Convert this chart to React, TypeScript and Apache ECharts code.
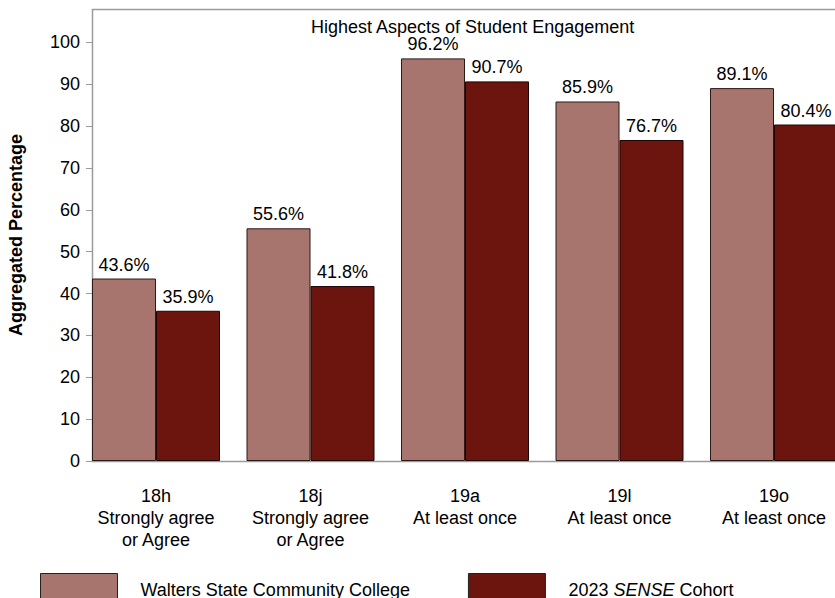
import React, { useEffect, useRef } from "react";
import * as echarts from "echarts";

const categories = [
  "18h\nStrongly agree\nor Agree",
  "18j\nStrongly agree\nor Agree",
  "19a\nAt least once",
  "19l\nAt least once",
  "19o\nAt least once",
];
const collegeValues = [43.6, 55.6, 96.2, 85.9, 89.1];
const cohortValues = [35.9, 41.8, 90.7, 76.7, 80.4];
const yTicks = [0, 10, 20, 30, 40, 50, 60, 70, 80, 90, 100];
const seriesNames = ["Walters State Community College", "2023 SENSE Cohort"];

const FONT = "Arial, 'Liberation Sans', Helvetica, sans-serif";

export default function App() {
  const ref = useRef<HTMLDivElement>(null);
  useEffect(() => {
    if (!ref.current) return;
    const chart = echarts.init(ref.current, undefined, { renderer: "svg" });
    const gridLeft = 78.75;
    const gridTop = 9;
    const gridBottom = 137;
    const axisX = 92;
    chart.setOption({
      animation: false,
      backgroundColor: "#ffffff",
      textStyle: { fontFamily: FONT },
      title: {
        text: "Highest Aspects of Student Engagement",
        left: 311,
        top: 18,
        padding: 0,
        z: 20,
        backgroundColor: "#ffffff",
        textStyle: { fontFamily: FONT, fontSize: 18, fontWeight: "normal", color: "#000" },
      },
      grid: {
        left: gridLeft,
        top: gridTop,
        width: 772.5,
        bottom: gridBottom,
        outerBoundsMode: "none",
        containLabel: false,
      },
      legend: {
        left: 40,
        top: 573,
        padding: 0,
        itemWidth: 77,
        itemHeight: 32,
        itemGap: 58,
        icon: "rect",
        itemStyle: { borderColor: "#222", borderWidth: 1 },
        textStyle: {
          fontFamily: FONT,
          fontSize: 18,
          color: "#000",
          padding: [0, 0, 0, 18],
          rich: {
            n: { fontFamily: FONT, fontSize: 18, color: "#000" },
            i: { fontFamily: FONT, fontSize: 18, color: "#000", fontStyle: "italic" },
          },
        },
        formatter: (name: string) =>
          name === seriesNames[1] ? "{n|2023 }{i|SENSE}{n| Cohort}" : name,
        data: seriesNames,
      },
      xAxis: {
        type: "category",
        data: categories,
        axisLine: { show: false },
        axisTick: { show: false },
        axisLabel: {
          margin: 24,
          fontFamily: FONT,
          fontSize: 18,
          lineHeight: 22,
          color: "#000",
          interval: 0,
        },
      },
      yAxis: {
        type: "value",
        min: 0,
        max: 108,
        interval: 10,
        offset: -(axisX - gridLeft),
        name: "Aggregated Percentage",
        nameLocation: "middle",
        nameRotate: 90,
        nameGap: 67,
        nameTextStyle: { fontFamily: FONT, fontSize: 18, fontWeight: "bold", color: "#000" },
        axisLine: { show: false },
        axisTick: {
          show: true,
          length: 6,
          lineStyle: { color: "#9a9a9a" },
          customValues: yTicks,
        },
        axisLabel: {
          margin: 12,
          fontFamily: FONT,
          fontSize: 18,
          color: "#000",
          customValues: yTicks,
        },
        splitLine: { show: false },
      },
      graphic: [
        {
          type: "rect",
          z: 0,
          silent: true,
          shape: { x: axisX + 0.5, y: gridTop + 0.5, width: 800, height: 598 - gridBottom - gridTop },
          style: { fill: "none", stroke: "#9a9a9a", lineWidth: 1.5 },
        },
      ],
      series: [
        {
          name: seriesNames[0],
          type: "bar",
          data: collegeValues,
          barWidth: 64,
          barGap: "0%",
          itemStyle: { color: "#A8756E", borderColor: "#2a1a18", borderWidth: 1 },
          label: {
            show: true,
            position: "top",
            distance: 5,
            formatter: (p: any) => p.value.toFixed(1) + "%",
            fontFamily: FONT,
            fontSize: 18,
            color: "#000",
          },
          z: 3,
        },
        {
          name: seriesNames[1],
          type: "bar",
          data: cohortValues,
          barWidth: 64,
          barGap: "0%",
          itemStyle: { color: "#6C140E", borderColor: "#1e0504", borderWidth: 1 },
          label: {
            show: true,
            position: "top",
            distance: 5,
            formatter: (p: any) => p.value.toFixed(1) + "%",
            fontFamily: FONT,
            fontSize: 18,
            color: "#000",
          },
          z: 3,
        },
      ],
    });
    return () => chart.dispose();
  }, []);
  return (
    <div
      ref={ref}
      style={{ position: "fixed", left: 0, top: 0, width: 835, height: 598, background: "#fff" }}
    />
  );
}
